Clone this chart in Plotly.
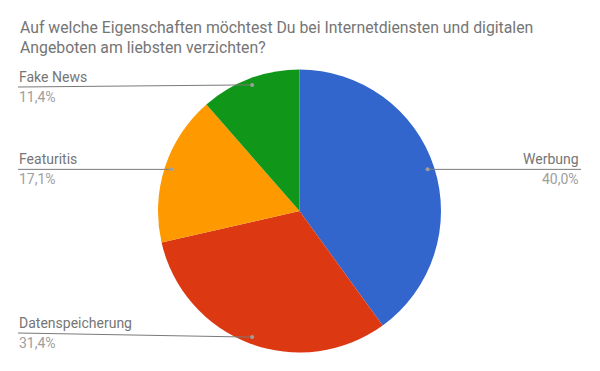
import math
import plotly.graph_objects as go

categories = ["Werbung", "Datenspeicherung", "Featuritis", "Fake News"]
counts = [14, 11, 6, 4]
colors = ["#3366cc", "#dc3912", "#ff9900", "#109618"]
title_lines = [
    "Auf welche Eigenschaften möchtest Du bei Internetdiensten und digitalen",
    "Angeboten am liebsten verzichten?",
]

W, H = 600, 371
cx, cy, R = 299.5, 211.0, 141.5
FONT = "Roboto, Arial, sans-serif"


def px(x):
    return x / W


def py(y):
    return 1 - y / H


fig = go.Figure(
    go.Pie(
        labels=categories,
        values=counts,
        marker=dict(colors=colors, line=dict(width=0)),
        sort=False,
        direction="clockwise",
        rotation=0,
        textinfo="none",
        hoverinfo="none",
        showlegend=False,
        domain=dict(x=[px(cx - R), px(cx + R)], y=[py(cy + R), py(cy - R)]),
    )
)

annotations = []
shapes = []
for i, line in enumerate(title_lines):
    annotations.append(dict(
        text=line, xref="paper", yref="paper", x=px(17.5), y=py(28 + i * 19.5),
        xanchor="left", yanchor="middle", showarrow=False,
        font=dict(family=FONT, size=15.8, color="#757575"),
    ))

total = sum(counts)
start = 0.0
for name, v in zip(categories, counts):
    frac = v / total
    mid = (start + frac / 2) * 2 * math.pi
    start += frac
    dx = cx + 0.952 * R * math.sin(mid)
    dy = cy - 0.952 * R * math.cos(mid)
    ly = min(max(dy, 87), 333)
    right = math.sin(mid) > 0
    x0 = dx if right else 18
    x1 = 581 if right else dx
    shapes.append(dict(type="line", xref="paper", yref="paper",
                       x0=px(x0), x1=px(x1),
                       y0=py(dy if right else ly), y1=py(ly if right else dy),
                       line=dict(color="#7a7a7a", width=1)))
    shapes.append(dict(type="circle", xref="paper", yref="paper",
                       x0=px(dx - 2), x1=px(dx + 2), y0=py(dy - 2), y1=py(dy + 2),
                       fillcolor="#9e9e9e", line=dict(width=0)))
    pct = f"{frac * 100:.1f}".replace(".", ",") + "%"
    xa = px(581) if right else px(17)
    anc = "right" if right else "left"
    annotations.append(dict(text=name, xref="paper", yref="paper", x=xa, y=py(ly - 10),
                            xanchor=anc, yanchor="middle", showarrow=False,
                            font=dict(family=FONT, size=14, color="#757575")))
    annotations.append(dict(text=pct, xref="paper", yref="paper", x=xa, y=py(ly + 10),
                            xanchor=anc, yanchor="middle", showarrow=False,
                            font=dict(family=FONT, size=14, color="#9e9e9e")))

fig.update_layout(
    width=W, height=H,
    margin=dict(l=0, r=0, t=0, b=0),
    paper_bgcolor="white", plot_bgcolor="white",
    annotations=annotations, shapes=shapes,
)
fig.write_html("out.html", config={"displayModeBar": False, "staticPlot": True})

with open("out.html", encoding="utf-8") as f:
    html = f.read()
html = html.replace("<body>", '<body style="margin:0;padding:0;overflow:hidden">', 1)
with open("out.html", "w", encoding="utf-8") as f:
    f.write(html)
